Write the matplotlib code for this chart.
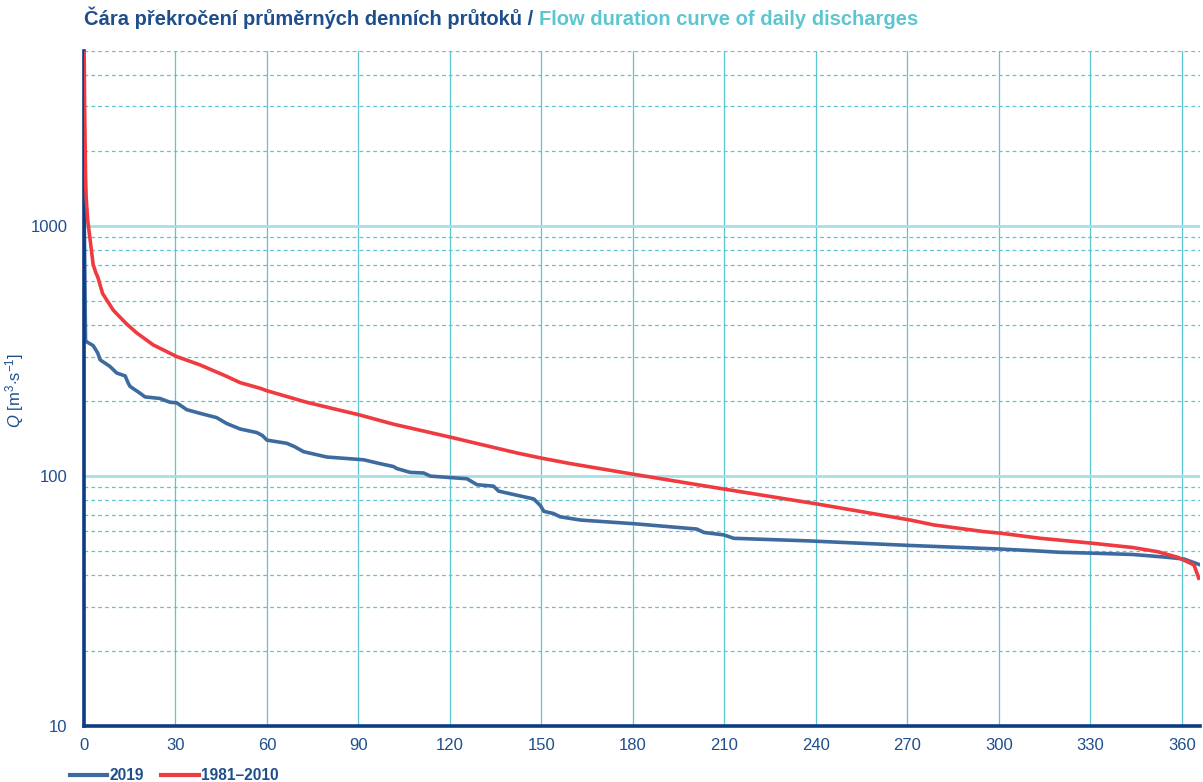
import matplotlib
matplotlib.use("Agg")
import matplotlib.pyplot as plt
from matplotlib.lines import Line2D
from matplotlib.ticker import NullFormatter, FixedLocator, FixedFormatter

plt.rcParams['font.family'] = ['Liberation Sans', 'DejaVu Sans']
plt.rcParams['mathtext.fontset'] = 'custom'
plt.rcParams['mathtext.rm'] = 'Liberation Sans'
plt.rcParams['mathtext.it'] = 'Liberation Sans:italic'

# ---- data (day of exceedance, discharge m3/s) ----
days_2019 = [0, 0.5, 1, 3, 4.5, 5.3, 8.5, 10.7, 13.5, 14.5, 15.1, 18.4, 20, 24.9, 28.2,
             30.4, 33.7, 38, 43.5, 46.8, 51.2, 56.7, 58.5, 60, 66.5, 69, 72, 79.6, 91.7,
             97, 101.5, 102.6, 107, 111.4, 113.6, 125.6, 128.9, 134.3, 136, 141, 147.5,
             149.7, 150.8, 154, 156.2, 162.8, 180.3, 201, 203.3, 209.8, 213.1, 237.2,
             271, 300.6, 311.5, 320, 330.7, 344, 355, 360.8, 365.6]
q_2019 = [1350, 345, 343, 332, 310, 291, 274, 258, 251, 235, 228, 214, 207, 204, 197,
          196, 184, 178, 171, 162, 154, 149, 145, 139, 135, 131, 125, 119, 116,
          112, 109, 107, 103.3, 102.7, 99.8, 97.4, 92.2, 91, 86.9, 84.2, 80.9,
          76, 72.2, 70.7, 68.6, 66.6, 64.4, 61.3, 59.4, 58.1, 56.3, 55.0,
          52.7, 51.0, 50.2, 49.5, 49.1, 48.5, 47.3, 46.5, 44.3]

days_ref = [0, 0.2, 0.5, 0.7, 1.2, 2.3, 3, 3.9, 4.5, 6.1, 9.6, 13.8, 17.3, 22.7, 30.4,
            38, 46.8, 51.2, 57.8, 60, 73, 90.6, 101.5, 120, 142, 149.7, 159.5, 180.3,
            210.4, 240.5, 271, 278.6, 295, 300.6, 313.7, 330.7, 344, 352, 358.6, 364, 365.6]
q_ref = [6000, 3000, 1600, 1300, 1057, 823, 700, 648, 625, 536, 460, 407, 373, 334, 300,
         278, 250, 236, 224, 219, 197, 175, 161, 143, 123.5, 118, 112, 101.5,
         88.4, 77.2, 66.6, 63.7, 59.9, 59, 56.3, 53.8, 51.7, 49.8, 47.3, 44.1, 39]

x_ticks = [0, 30, 60, 90, 120, 150, 180, 210, 240, 270, 300, 330, 360]
y_ticks = [10, 100, 1000]
y_tick_labels = ['10', '100', '1000']

title_cz = 'Čára překročení průměrných denních průtoků / '
title_en = 'Flow duration curve of daily discharges'
label_2019 = '2019'
label_ref = '1981–2010'

DARK = '#0d3c84'
TXT = '#1f4e8c'
CYAN = '#5cc6d0'
CYAN_LIGHT = '#a6dfe4'
RED = '#ef3b3f'
BLUE = '#3e6b9f'

fig = plt.figure(figsize=(12.03, 7.82), dpi=100)
ax = fig.add_axes([84/1203, 56/782, 1116/1203, 675/782])

ax.set_yscale('log')
ax.set_xlim(0, 366)
ax.set_ylim(10, 5000)

ax.plot(days_2019, q_2019, color=BLUE, lw=2.6, zorder=2, solid_joinstyle='round')
ax.plot(days_ref, q_ref, color=RED, lw=2.6, zorder=3, solid_joinstyle='round')

# grid
for xv in x_ticks[1:]:
    ax.axvline(xv, color=CYAN, lw=0.9, zorder=1)
for yv in [100, 1000]:
    ax.axhline(yv, color=CYAN_LIGHT, lw=2.0, zorder=1)
for dec in [10, 100, 1000]:
    for m in range(2, 10):
        v = dec * m
        if v <= 5000:
            ax.axhline(v, color=CYAN, lw=0.9, ls=(0, (3, 2.5)), zorder=1)

ax.yaxis.set_major_locator(FixedLocator(y_ticks))
ax.yaxis.set_major_formatter(FixedFormatter(y_tick_labels))
ax.yaxis.set_minor_locator(FixedLocator([]))
ax.yaxis.set_minor_formatter(NullFormatter())
ax.set_xticks(x_ticks)
ax.tick_params(axis='both', which='both', length=0, labelsize=12, labelcolor=TXT)
ax.tick_params(axis='x', pad=9)
ax.tick_params(axis='y', pad=12)

for s in ['top', 'right']:
    ax.spines[s].set_visible(False)
for s in ['left', 'bottom']:
    ax.spines[s].set_color(DARK)
    ax.spines[s].set_linewidth(2.6)
    ax.spines[s].set_zorder(2.5)

fig.text(15/1203, 1 - 390/782, r'$\mathit{Q}\ \mathrm{[m^{3}{\cdot}s^{-1}]}$', rotation=90,
         ha='center', va='center', fontsize=12, color=TXT)

# title
t1 = fig.text(84/1203, 1 - 25/782, title_cz, fontsize=14.5, fontweight='bold',
              color=TXT, ha='left', va='baseline')
fig.canvas.draw()
bb = t1.get_window_extent()
fig.text(bb.x1 / fig.bbox.width, 1 - 25/782, title_en, fontsize=14.5, fontweight='bold',
         color=CYAN, ha='left', va='baseline')

handles = [Line2D([], [], color=BLUE, lw=3), Line2D([], [], color=RED, lw=3)]
leg = fig.legend(handles, [label_2019, label_ref], loc='lower left',
                 bbox_to_anchor=(70/1203, -1/782), ncol=2, frameon=False,
                 handlelength=2.4, handletextpad=0.15, columnspacing=1.1,
                 borderpad=0, borderaxespad=0,
                 prop={'weight': 'bold', 'size': 11.2})
for t in leg.get_texts():
    t.set_color(TXT)

fig.savefig('out.png', dpi=100)
